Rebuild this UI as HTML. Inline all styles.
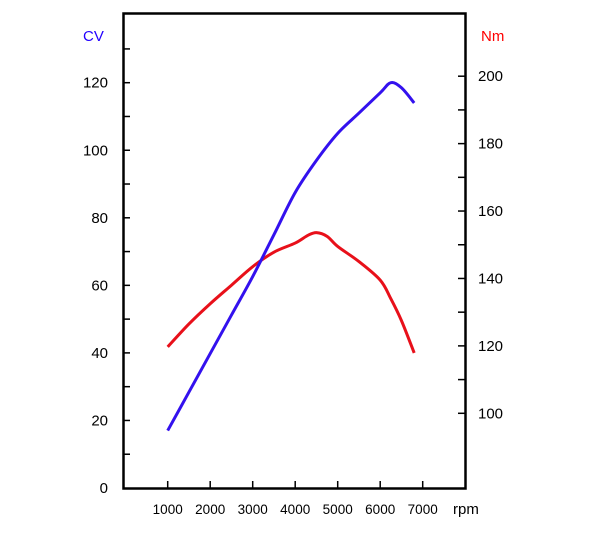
<!DOCTYPE html>
<html><head><meta charset="utf-8"><style>
body{margin:0;background:#fff;width:600px;height:554px;overflow:hidden}
svg{font-family:"Liberation Sans",Arial,sans-serif}
</style></head><body>
<svg id="chart" width="600" height="554">
<rect x="123.5" y="13.5" width="342" height="475" fill="none" stroke="#000" stroke-width="2.5"/>
<text x="83" y="41" font-size="15" fill="#2200ff">CV</text>
<text x="481" y="41" font-size="15" fill="#ff0000">Nm</text>
<text x="453" y="514" font-size="15" fill="#000">rpm</text>
<g id="axes"></g>
<g id="series"></g>
</svg>
<script>
const rpmTicks=[1000,2000,3000,4000,5000,6000,7000];
const cvTicks=[0,20,40,60,80,100,120];
const nmTicks=[100,120,140,160,180,200];
const cvRpm=[1000,1500,2000,2500,3000,3500,4000,4500,5000,5500,6000,6250,6500,6800];
const cvVals=[17,28.4,39.8,51.2,62.6,75,87.5,97,105,111,117,120,118.5,114];
const nmRpm=[1000,1500,2000,2500,3000,3500,4000,4300,4500,4750,5000,5500,6000,6250,6500,6800];
const nmVals=[119.7,126.5,132.5,138,143.5,147.8,150.5,152.8,153.6,152.5,149.5,145,139.5,134,127.5,117.9];
const X=r=>167.7+(r-1000)*0.0425;
const YL=v=>488-v*3.3775;
const YR=v=>413.3-(v-100)*3.371;
const NS='http://www.w3.org/2000/svg';
const ax=document.getElementById('axes'),se=document.getElementById('series');
function mk(t,a,p){const e=document.createElementNS(NS,t);for(const k in a)e.setAttribute(k,a[k]);p.appendChild(e);return e;}
rpmTicks.forEach(r=>{
 const l=mk('line',{x1:X(r),x2:X(r),y1:488,y2:481,stroke:'#000','stroke-width':1.5},ax);
 
 
 const t=mk('text',{x:X(r),y:514,'font-size':13.5,'text-anchor':'middle',fill:'#000'},ax);t.textContent=r;
 
 
});
for(let v=10;v<=130;v+=10){
 const l=mk('line',{x1:123,x2:130,y1:YL(v),y2:YL(v),stroke:'#000','stroke-width':1.5},ax);
 
 
}
cvTicks.forEach(v=>{
 const t=mk('text',{x:108,y:YL(v)+5,'font-size':15,'text-anchor':'end',fill:'#000'},ax);t.textContent=v;
 
 
});
for(let v=100;v<=200;v+=10){
 const l=mk('line',{x1:458,x2:465,y1:YR(v),y2:YR(v),stroke:'#000','stroke-width':1.5},ax);
 
 
}
nmTicks.forEach(v=>{
 const t=mk('text',{x:478,y:YR(v)+5,'font-size':15,fill:'#000'},ax);t.textContent=v;
 
 
});
function path(xs,ys,fy){
 const p=xs.map((r,i)=>[X(r),fy(ys[i])]);
 let d='M'+p[0][0]+','+p[0][1];
 for(let i=0;i<p.length-1;i++){
  const a=p[i-1]||p[i],b=p[i],c=p[i+1],e=p[i+2]||c;
  d+=` C${b[0]+(c[0]-a[0])/6},${b[1]+(c[1]-a[1])/6} ${c[0]-(e[0]-b[0])/6},${c[1]-(e[1]-b[1])/6} ${c[0]},${c[1]}`;
 }
 return d;
}
const tq=mk('path',{d:path(nmRpm,nmVals,YR),fill:'none',stroke:'#e8101a','stroke-width':3,'stroke-linejoin':'round'},se);


const pw=mk('path',{d:path(cvRpm,cvVals,YL),fill:'none',stroke:'#3311ee','stroke-width':3,'stroke-linejoin':'round'},se);


</script>
</body></html>
